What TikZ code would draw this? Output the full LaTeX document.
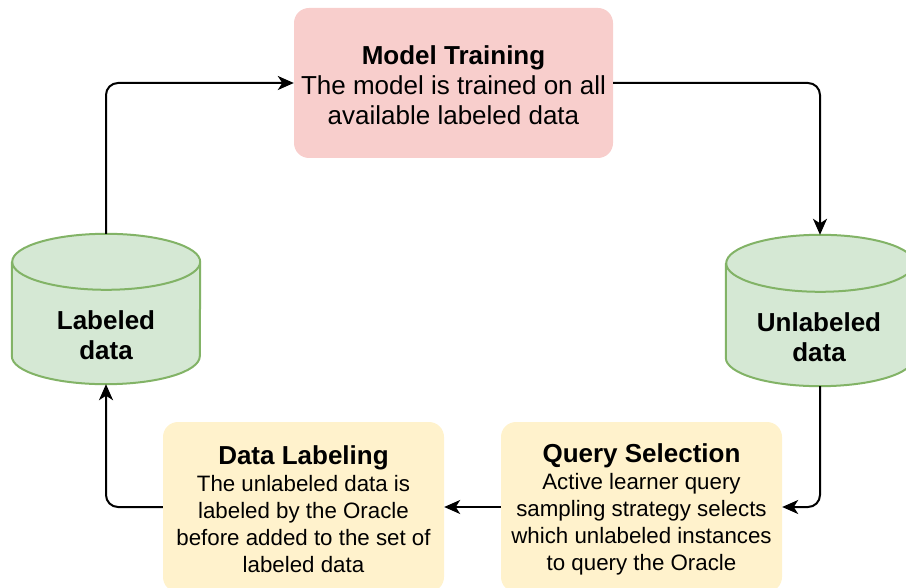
\documentclass[tikz,border=0pt]{standalone}
\usepackage{fontspec}
\setmainfont{Liberation Sans}
\usetikzlibrary{arrows.meta}

\definecolor{pinkfill}{HTML}{F8CECC}
\definecolor{greenfill}{HTML}{D5E8D4}
\definecolor{greenline}{HTML}{82B366}
\definecolor{yellowfill}{HTML}{FFF2CC}

% extra room above a title line, nudging the text block slightly down
\newcommand{\titlestrut}{\rule{0pt}{23.5pt}}

\tikzset{
  procbox/.style={rectangle, rounded corners=15pt, inner sep=0pt, align=center},
  cylbox/.style={rectangle, inner sep=0pt, minimum width=188pt},
  cyltext/.style={align=center, font=\bfseries\fontsize{26}{30}\selectfont},
  cylfill/.style={fill=greenfill},
  cylline/.style={draw=greenline, line width=2pt},
  conn/.style={draw=black, line width=2pt, rounded corners=12pt,
    -{Stealth[length=16pt, width=14pt, inset=4.5pt]}},
}

% body of a data store: side walls, bottom arc and the top ellipse
\newcommand{\datastore}[3]{% #1 = node name, #2 = half width, #3 = cap radius
  \path[cylfill] ([yshift=-#3]#1.north west) -- ([yshift=#3]#1.south west)
     arc[start angle=180, end angle=360, x radius=#2, y radius=#3]
     -- ([yshift=-#3]#1.north east)
     arc[start angle=0, end angle=180, x radius=#2, y radius=#3] -- cycle;
  \draw[cylline] ([yshift=-#3]#1.north west) -- ([yshift=#3]#1.south west)
     arc[start angle=180, end angle=360, x radius=#2, y radius=#3]
     -- ([yshift=-#3]#1.north east)
     arc[start angle=0, end angle=360, x radius=#2, y radius=#3];
}

\begin{document}
\begin{tikzpicture}[x=1pt, y=-1pt]
  \useasboundingbox (0,0) rectangle (906,588);
  \clip (0,0) rectangle (906,588);

  % process steps
  \node[procbox, fill=pinkfill, minimum width=319pt, minimum height=150pt,
        font=\fontsize{26}{30}\selectfont] (mt) at (453.5,83)
    {\titlestrut{\bfseries Model Training}\\The model is trained on all\\available labeled data};

  \node[procbox, fill=yellowfill, minimum width=281pt, minimum height=170pt,
        font=\fontsize{22.3}{27}\selectfont] (dl) at (303.5,507)
    {\titlestrut{\bfseries\fontsize{26}{27}\selectfont Data Labeling}\\The unlabeled data is\\labeled by the Oracle\\before added to the set of\\labeled data};

  \node[procbox, fill=yellowfill, minimum width=281pt, minimum height=170pt,
        font=\fontsize{22.3}{27}\selectfont] (qs) at (641.5,507)
    {\titlestrut{\bfseries\fontsize{26}{27}\selectfont Query Selection}\\Active learner query\\sampling strategy selects\\which unlabeled instances\\to query the Oracle};

  % data stores
  \node[cylbox, minimum height=150pt] (lab) at (106,309) {};
  \datastore{lab}{94pt}{28pt}
  \node[cyltext] (labtxt) at (106,335) {Labeled\\data};

  \node[cylbox, minimum height=151pt] (unl) at (820,310.5) {};
  \datastore{unl}{94pt}{28.5pt}
  \node[cyltext] (unltxt) at (819,337) {Unlabeled\\data};

  % cycle of connectors
  \draw[conn] (lab.north) |- (mt.west);
  \draw[conn] (mt.east) -| (unl.north);
  \draw[conn] (unl.south) |- (qs.east);
  \draw[conn] (qs.west) -- (dl.east);
  \draw[conn] (dl.west) -| (lab.south);
\end{tikzpicture}
\end{document}
